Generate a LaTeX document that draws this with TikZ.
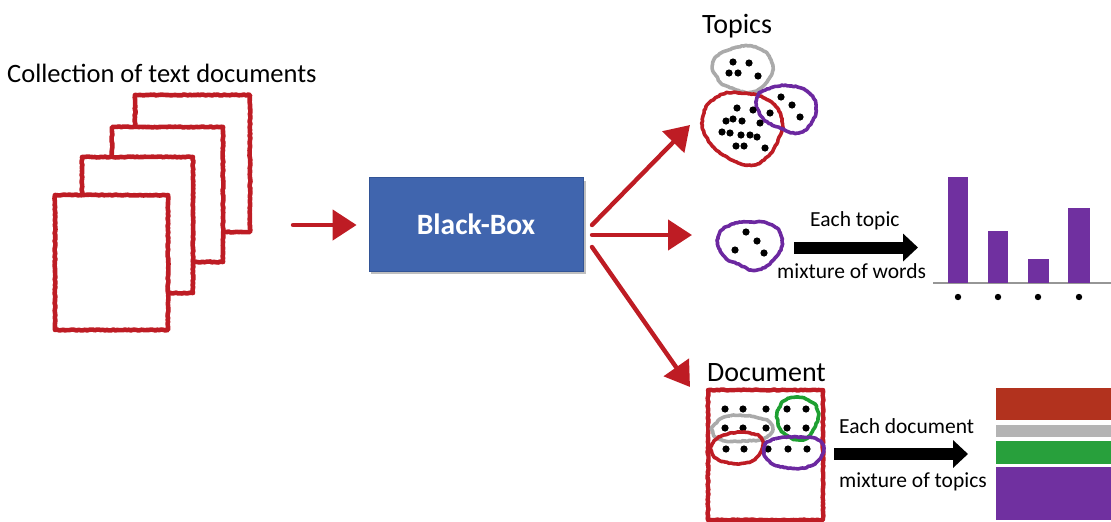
\documentclass[tikz,border=0pt]{standalone}
\usepackage{fontspec}
\setmainfont{Carlito}
\usetikzlibrary{arrows.meta,decorations.pathmorphing,calc}

\definecolor{inkred}{RGB}{190,28,36}
\definecolor{inkgray}{RGB}{170,170,170}
\definecolor{inkpurple}{RGB}{108,40,160}
\definecolor{inkgreen}{RGB}{30,160,50}
\definecolor{boxblue}{RGB}{64,101,174}
\definecolor{boxedge}{RGB}{50,84,150}
\definecolor{barpurple}{RGB}{112,48,160}
\definecolor{barred}{RGB}{178,50,30}
\definecolor{bargray}{RGB}{180,180,180}
\definecolor{bargreen}{RGB}{40,160,60}
\definecolor{axisgray}{RGB}{150,150,150}

\tikzset{
  rough/.style={decorate, decoration={random steps, segment length=2pt, amplitude=0.5pt}},
  page/.style={draw=inkred, line width=4.6pt, fill=white, rough, line join=round, inner sep=0pt},
  blob/.style={line width=3.6pt, rough, line join=round},
  worddot/.style={fill=black},
  redarrow/.style={draw=inkred, line width=4.4pt, line cap=round,
    -{Triangle[length=24pt,width=30pt]}},
  blockarrow/.style={draw=black, line width=12pt,
    -{Triangle[length=15pt,width=27pt]}},
  label/.style={inner sep=0pt, font=\fontsize{21.5}{24}\selectfont},
  title/.style={inner sep=0pt, font=\fontsize{28}{32}\selectfont},
  bbox/.style={fill=boxblue, draw=boxedge, line width=0.8pt, minimum width=214pt,
    minimum height=94pt, text=white, font=\fontsize{29.5}{32}\selectfont\bfseries}
}

\begin{document}
\begin{tikzpicture}[x=1pt,y=-1pt]
\useasboundingbox (0,0) rectangle (1111,522);

% ---- stack of input documents (back to front) ----
\node[anchor=base west, inner sep=0pt, font=\fontsize{26.5}{30}\selectfont]
  (colltitle) at (7,82) {Collection of text documents};
\node[page, minimum width=115pt, minimum height=137pt] (pg4) at (192.5,163.5) {};
\node[page, minimum width=111pt, minimum height=135pt] (pg3) at (167.5,194.5) {};
\node[page, minimum width=111pt, minimum height=136pt] (pg2) at (137.5,225) {};
\node[page, minimum width=113pt, minimum height=135pt] (pg1) at (111.5,262.5) {};

% ---- black box ----
\fill[black!25] (371,181) rectangle (586,274);
\node[bbox] (bb) at (476,224) {Black-Box};

\coordinate (inS) at (293,225);
\draw[redarrow, shorten >=12pt] (inS) -- (bb.west |- inS);

\coordinate (oUp) at (592,225);
\coordinate (oMid) at (592,235);
\coordinate (oDn) at (592,247);
\coordinate (tUp) at (690,125);
\coordinate (tMid) at (692,235);
\coordinate (tDn) at (690,387);
\draw[redarrow] (oUp) -- (tUp);
\draw[redarrow] (oMid) -- (tMid);
\draw[redarrow] (oDn) -- (tDn);

% ---- topics ----
\node[title, anchor=base west] (topics) at (702,33) {Topics};
\draw[blob, draw=inkgray] plot[smooth cycle, tension=0.8] coordinates
  {(714,60) (738,47) (760,49) (772,63) (768,80) (752,92) (732,88) (718,79)};
\draw[blob, draw=inkred] plot[smooth cycle, tension=0.8] coordinates
  {(717,97) (740,93) (768,100) (782,120) (778,140) (767,157) (750,165) (727,157) (708,140) (703,116)};
\draw[blob, draw=inkpurple] plot[smooth cycle, tension=0.8] coordinates
  {(757,98) (770,88) (790,86) (808,92) (816,107) (810,125) (797,133) (780,128) (762,117)};
\foreach \p in {(733,62),(749,63),(729,73),(738,73),(758,76),
                (781,97),(792,105),(770,113),(800,117),
                (737,108),(753,110),(726,121),(733,119),(742,121),(760,123),
                (722,132),(730,133),(741,135),(750,135),(757,137),
                (736,146),(744,146),(765,148)}
  \fill[worddot] \p circle (3.6pt);

% ---- one topic as a mixture of words ----
\draw[blob, draw=inkpurple] plot[smooth cycle, tension=0.8] coordinates
  {(718,237) (730,225) (750,222) (772,225) (782,240) (775,258) (757,270) (740,265) (723,255)};
\foreach \p in {(746,232),(757,241),(735,250),(764,253)}
  \fill[worddot] \p circle (3.6pt);

\coordinate (wS) at (794,247.5);
\coordinate (wE) at (918,247.5);
\draw[blockarrow] (wS) -- (wE);
\node[label, anchor=base west] (eachtopic) at (810,226) {Each topic};
\node[label, anchor=base west] (mixwords) at (777,278) {mixture of words};

% word distribution bars
\draw[axisgray, line width=1.5pt] (933,283) -- (1111,283);
\fill[barpurple] (948,177) rectangle (968,283);
\fill[barpurple] (988,231) rectangle (1008,283);
\fill[barpurple] (1028,259) rectangle (1049,283);
\fill[barpurple] (1068,208) rectangle (1090,283);
\foreach \x in {958,998,1038,1079}
  \fill[worddot] (\x,297) circle (3.2pt);

% ---- one document as a mixture of topics ----
\node[title, anchor=base west] (doctitle) at (707,381) {Document};
\draw[blob, draw=inkred, line width=4.4pt] (708,390) rectangle (823,520);
\foreach \x in {725,743,766,787,806}{
  \fill[worddot] (\x,409) circle (3.6pt);
  \fill[worddot] (\x,428) circle (3.6pt);
}
\foreach \x in {726,744,768,788,807}
  \fill[worddot] (\x,449) circle (3.6pt);
\draw[blob, draw=inkgray] plot[smooth cycle, tension=0.8] coordinates
  {(715,424) (730,416) (755,417) (771,424) (767,437) (745,441) (722,440) (713,433)};
\draw[blob, draw=inkgreen] plot[smooth cycle, tension=0.8] coordinates
  {(779,408) (790,398) (808,400) (818,412) (813,430) (802,440) (786,435) (778,423)};
\draw[blob, draw=inkred] plot[smooth cycle, tension=0.8] coordinates
  {(713,443) (728,434) (750,433) (762,440) (759,455) (745,463) (725,462) (713,455)};
\draw[blob, draw=inkpurple] plot[smooth cycle, tension=0.8] coordinates
  {(764,448) (775,439) (800,437) (820,441) (822,455) (810,466) (790,468) (770,462)};

\coordinate (dS) at (834,454);
\coordinate (dE) at (968,454);
\draw[blockarrow] (dS) -- (dE);
\node[label, anchor=base west] (eachdoc) at (839,433) {Each document};
\node[label, anchor=base west] (mixtopics) at (839,487) {mixture of topics};

% topic proportions
\fill[barred] (996,388) rectangle (1111,420);
\fill[bargray] (996,425) rectangle (1111,437);
\fill[bargreen] (996,441) rectangle (1111,464);
\fill[barpurple] (996,467) rectangle (1111,520);
\end{tikzpicture}
\end{document}
